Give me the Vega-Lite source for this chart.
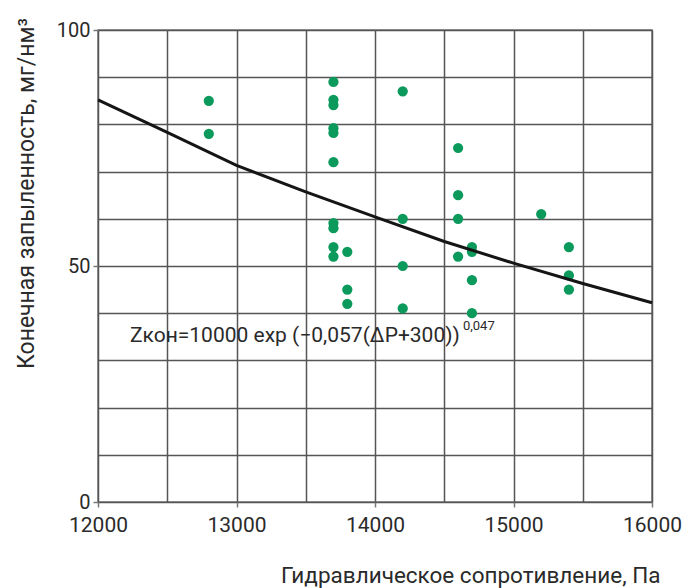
{
  "$schema": "https://vega.github.io/schema/vega-lite/v6.json",
  "width": 554,
  "height": 472,
  "autosize": "none",
  "padding": {"left": 98, "top": 30, "right": 43, "bottom": 86},
  "background": "white",
  "config": {
    "view": {"stroke": "#7a7a7a", "strokeWidth": 1.5},
    "font": "Roboto"
  },
  "datasets": {
    "points": [
      {"dp": 12800, "z": 85}, {"dp": 12800, "z": 78},
      {"dp": 13700, "z": 89}, {"dp": 13700, "z": 85.2}, {"dp": 13700, "z": 84.1},
      {"dp": 13700, "z": 79.2}, {"dp": 13700, "z": 78.2}, {"dp": 13700, "z": 72},
      {"dp": 13700, "z": 59.1}, {"dp": 13700, "z": 58}, {"dp": 13700, "z": 54}, {"dp": 13700, "z": 52},
      {"dp": 13800, "z": 53}, {"dp": 13800, "z": 45}, {"dp": 13800, "z": 42},
      {"dp": 14200, "z": 87}, {"dp": 14200, "z": 60}, {"dp": 14200, "z": 50}, {"dp": 14200, "z": 41},
      {"dp": 14600, "z": 75}, {"dp": 14600, "z": 65}, {"dp": 14600, "z": 60}, {"dp": 14600, "z": 52},
      {"dp": 14700, "z": 54}, {"dp": 14700, "z": 53}, {"dp": 14700, "z": 47}, {"dp": 14700, "z": 40},
      {"dp": 15200, "z": 61},
      {"dp": 15400, "z": 54}, {"dp": 15400, "z": 48}, {"dp": 15400, "z": 45}
    ],
    "curve": [
      {"dp": 12000, "z": 85.2}, {"dp": 12500, "z": 78.3}, {"dp": 13000, "z": 71.3},
      {"dp": 13500, "z": 65.7}, {"dp": 14000, "z": 60.4}, {"dp": 14500, "z": 55.2},
      {"dp": 15000, "z": 50.6}, {"dp": 15500, "z": 46.3}, {"dp": 16000, "z": 42.2}
    ],
    "labels": [
      {"dp": 12231, "z": 33.9, "text": "Zкон=10000 exp (−0,057(ΔP+300))", "kind": "main"},
      {"dp": 14635, "z": 36.4, "text": "0,047", "kind": "sup"}
    ]
  },
  "encoding": {
    "x": {
      "field": "dp", "type": "quantitative",
      "scale": {"domain": [12000, 16000], "nice": false, "zero": false},
      "axis": {
        "values": [12000, 12500, 13000, 13500, 14000, 14500, 15000, 15500, 16000],
        "grid": true, "gridColor": "#555555", "gridWidth": 1.5, "gridOpacity": 1,
        "domain": false,
        "ticks": true, "tickSize": 5, "tickColor": "#777777", "tickWidth": 1.5,
        "tickOpacity": {"condition": {"test": "datum.value % 1000 === 0", "value": 1}, "value": 0},
        "labelExpr": "datum.value % 1000 === 0 ? datum.value : ''",
        "labelFontSize": 21, "labelColor": "#2a2a2a", "labelPadding": 7,
        "labelFont": "Roboto", "labelFlush": false, "labelOverlap": false,
        "title": "Гидравлическое сопротивление, Па",
        "titleFont": "Roboto",
        "titleFontSize": 22.5, "titleFontWeight": "normal", "titleColor": "#2a2a2a",
        "titleAnchor": null, "titleAlign": "right", "titleX": 562, "titleY": 80,
        "titleBaseline": "alphabetic"
      }
    },
    "y": {
      "field": "z", "type": "quantitative",
      "scale": {"domain": [0, 100], "nice": false},
      "axis": {
        "values": [0, 10, 20, 30, 40, 50, 60, 70, 80, 90, 100],
        "grid": true, "gridColor": "#555555", "gridWidth": 1.5, "gridOpacity": 1,
        "domain": false,
        "ticks": true, "tickSize": 5, "tickColor": "#777777", "tickWidth": 1.5,
        "tickOpacity": {"condition": {"test": "datum.value % 50 === 0", "value": 1}, "value": 0},
        "labelExpr": "datum.value % 50 === 0 ? datum.value : ''",
        "labelFontSize": 20, "labelColor": "#2a2a2a", "labelPadding": 3,
        "labelFont": "Roboto", "labelFlush": false, "labelOverlap": false,
        "title": "Конечная запыленность, мг/нм³",
        "titleFont": "Roboto",
        "titleFontSize": 23, "titleFontWeight": "normal", "titleColor": "#2a2a2a",
        "titleAngle": -90, "titleAnchor": null, "titleAlign": "center",
        "titleX": -72, "titleY": 163, "titleBaseline": "middle"
      }
    }
  },
  "layer": [
    {
      "data": {"name": "points"},
      "mark": {"type": "point", "filled": true, "shape": "circle", "size": 105, "color": "#0b9a5b", "opacity": 1}
    },
    {
      "data": {"name": "curve"},
      "mark": {"type": "line", "color": "#151515", "strokeWidth": 3}
    },
    {
      "data": {"name": "labels"},
      "transform": [{"filter": "datum.kind === 'main'"}],
      "mark": {"type": "text", "align": "left", "baseline": "alphabetic", "fontSize": 21, "font": "Roboto", "color": "#2a2a2a"},
      "encoding": {"text": {"field": "text"}}
    },
    {
      "data": {"name": "labels"},
      "transform": [{"filter": "datum.kind === 'sup'"}],
      "mark": {"type": "text", "align": "left", "baseline": "alphabetic", "fontSize": 13, "font": "Roboto", "color": "#2a2a2a"},
      "encoding": {"text": {"field": "text"}}
    }
  ]
}
